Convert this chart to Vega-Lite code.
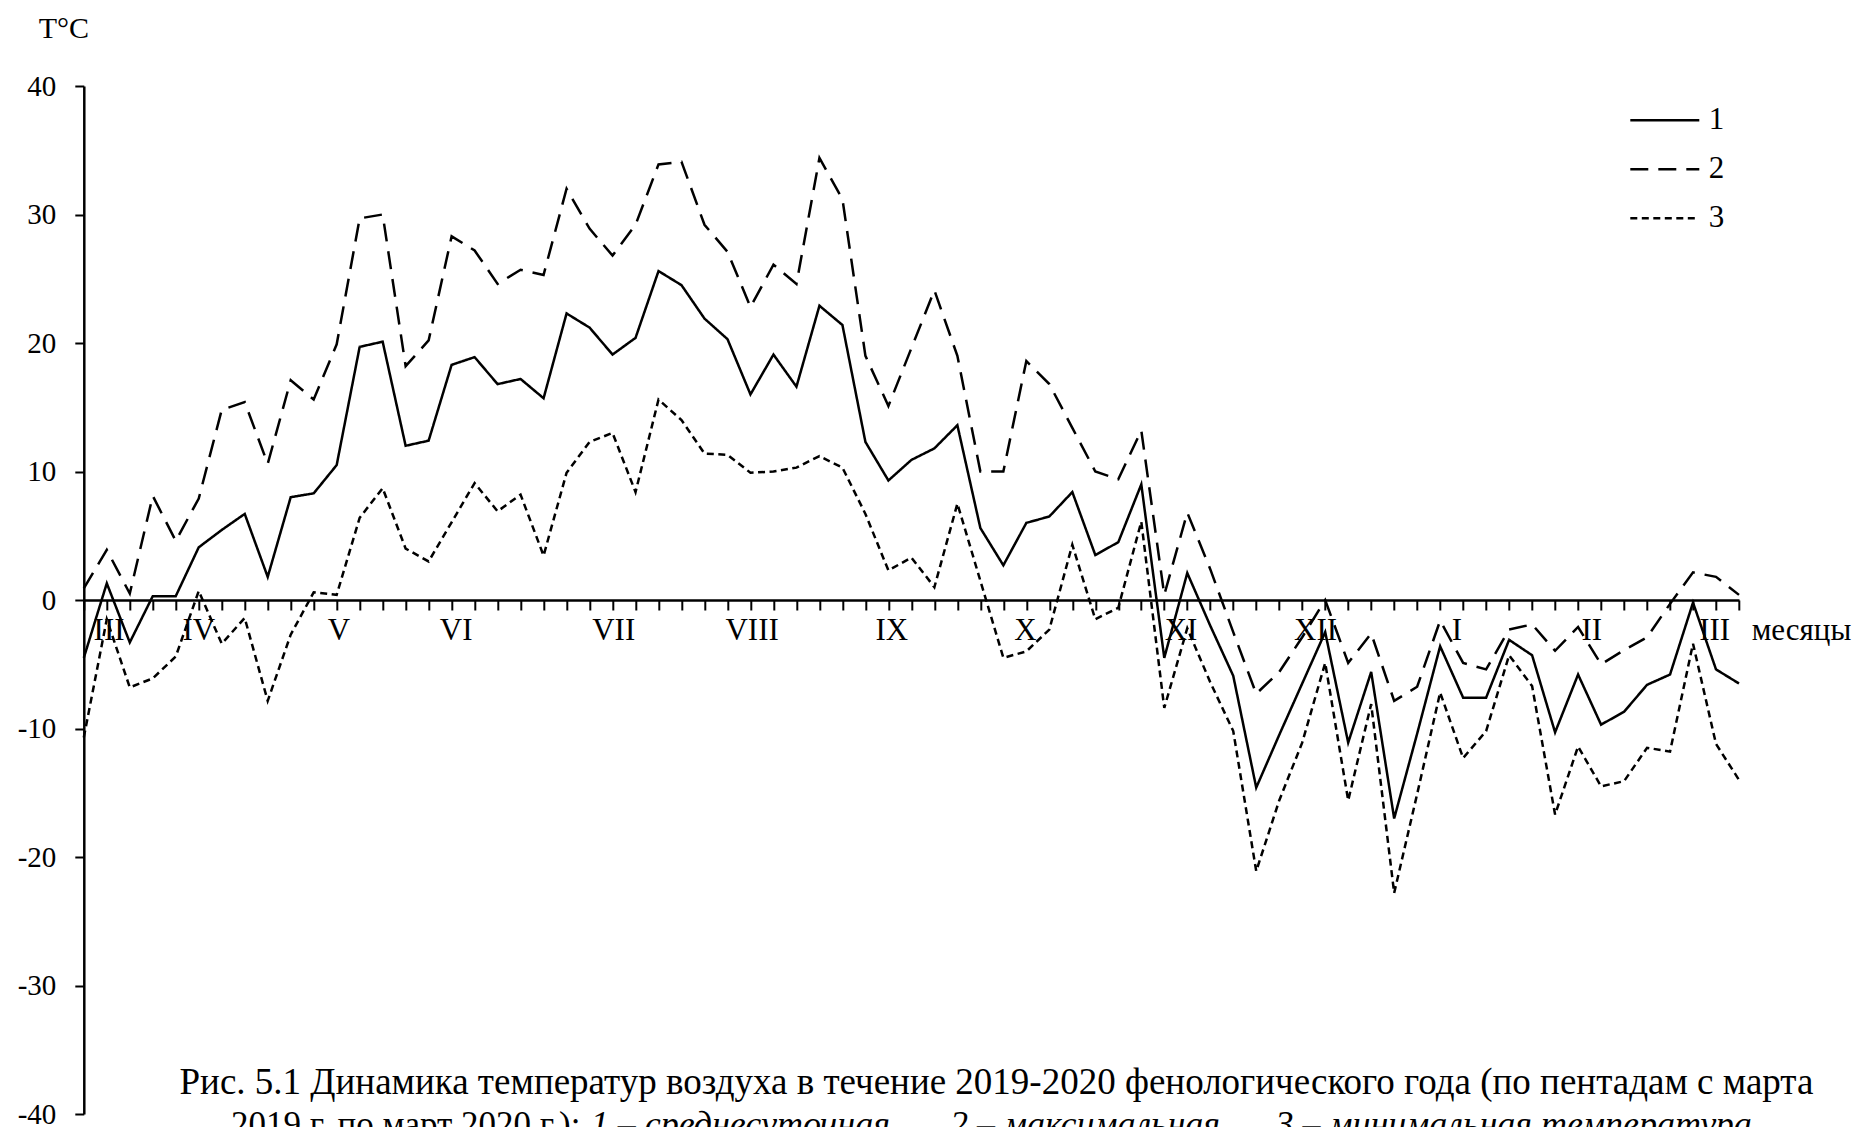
{
  "$schema": "https://vega.github.io/schema/vega-lite/v6.json",
  "autosize": {"type": "none"},
  "padding": {"left": 83.8, "top": 86, "right": 120, "bottom": 13},
  "width": 1655.2,
  "height": 1028,
  "config": {
    "view": {"stroke": null},
    "font": "Liberation Serif",
    "legend": {"labelFont": "Liberation Serif"},
    "axis": {"grid": false, "domainColor": "black", "tickColor": "black", "labelColor": "black", "titleColor": "black", "labelFont": "Liberation Serif", "titleFont": "Liberation Serif"},
    "axisX": {
      "offset": -514, "tickCount": 72, "labels": false,
      "tickSize": 10, "tickWidth": 2, "domainWidth": 2.5
    },
    "axisY": {
      "tickCount": 8,
      "titleAngle": 0, "titleX": -20.5, "titleY": -49,
      "titleAlign": "center", "titleBaseline": "alphabetic",
      "titleFont": "Liberation Serif", "titleFontSize": 30, "titleFontWeight": "normal",
      "labelFont": "Liberation Serif", "labelFontSize": 29, "labelPadding": 19,
      "labelExpr": "datum.value < 0 ? '-' + (-datum.value) : '' + datum.value",
      "tickSize": 9, "tickWidth": 2, "domainWidth": 2.5
    }
  },
  "datasets": {
    "temps": [
      {"p":0,"1":-4.5,"2":0.9,"3":-10.7},
      {"p":1,"1":1.3,"2":3.9,"3":-1.5},
      {"p":2,"1":-3.3,"2":0.5,"3":-6.8},
      {"p":3,"1":0.3,"2":8.1,"3":-6.1},
      {"p":4,"1":0.3,"2":4.6,"3":-4.4},
      {"p":5,"1":4.1,"2":7.9,"3":0.7},
      {"p":6,"1":5.45,"2":14.8,"3":-3.4},
      {"p":7,"1":6.7,"2":15.4,"3":-1.4},
      {"p":8,"1":1.8,"2":10.6,"3":-7.85},
      {"p":9,"1":8.0,"2":17.1,"3":-2.7},
      {"p":10,"1":8.3,"2":15.6,"3":0.6},
      {"p":11,"1":10.5,"2":19.9,"3":0.4},
      {"p":12,"1":19.7,"2":29.7,"3":6.4},
      {"p":13,"1":20.1,"2":30.0,"3":8.7},
      {"p":14,"1":12.0,"2":18.2,"3":4.0},
      {"p":15,"1":12.4,"2":20.2,"3":3.0},
      {"p":16,"1":18.3,"2":28.3,"3":6.05},
      {"p":17,"1":18.9,"2":27.2,"3":9.1},
      {"p":18,"1":16.8,"2":24.6,"3":6.9},
      {"p":19,"1":17.2,"2":25.7,"3":8.2},
      {"p":20,"1":15.7,"2":25.3,"3":3.45},
      {"p":21,"1":22.3,"2":32.0,"3":9.9},
      {"p":22,"1":21.2,"2":28.9,"3":12.3},
      {"p":23,"1":19.1,"2":26.8,"3":13.0},
      {"p":24,"1":20.4,"2":29.2,"3":8.4},
      {"p":25,"1":25.6,"2":33.9,"3":15.6},
      {"p":26,"1":24.5,"2":34.1,"3":14.0},
      {"p":27,"1":21.9,"2":29.2,"3":11.4},
      {"p":28,"1":20.3,"2":27.1,"3":11.3},
      {"p":29,"1":16.0,"2":22.8,"3":9.9},
      {"p":30,"1":19.1,"2":26.1,"3":10.0},
      {"p":31,"1":16.6,"2":24.6,"3":10.3},
      {"p":32,"1":22.9,"2":34.4,"3":11.2},
      {"p":33,"1":21.4,"2":31.2,"3":10.3},
      {"p":34,"1":12.3,"2":19.0,"3":6.7},
      {"p":35,"1":9.3,"2":15.1,"3":2.3},
      {"p":36,"1":10.9,"2":19.6,"3":3.3},
      {"p":37,"1":11.8,"2":24.1,"3":1.0},
      {"p":38,"1":13.6,"2":19.0,"3":7.5},
      {"p":39,"1":5.6,"2":10.0,"3":1.5},
      {"p":40,"1":2.7,"2":10.0,"3":-4.5},
      {"p":41,"1":6.0,"2":18.6,"3":-4.0},
      {"p":42,"1":6.5,"2":16.8,"3":-2.3},
      {"p":43,"1":8.4,"2":13.4,"3":4.3},
      {"p":44,"1":3.5,"2":10.0,"3":-1.5},
      {"p":45,"1":4.5,"2":9.4,"3":-0.6},
      {"p":46,"1":9.0,"2":13.2,"3":6.1},
      {"p":47,"1":-4.5,"2":0.4,"3":-8.4},
      {"p":48,"1":2.1,"2":6.8,"3":-2.2},
      {"p":49,"1":-2.0,"2":2.4,"3":-6.4},
      {"p":50,"1":-5.9,"2":-2.5,"3":-10.2},
      {"p":51,"1":-14.6,"2":-7.3,"3":-21.1},
      {"p":52,"1":-10.5,"2":-5.6,"3":-15.6},
      {"p":53,"1":-6.5,"2":-2.9,"3":-11.1},
      {"p":54,"1":-2.5,"2":0.0,"3":-4.9},
      {"p":55,"1":-11.1,"2":-4.9,"3":-15.6},
      {"p":56,"1":-5.6,"2":-2.6,"3":-8.1},
      {"p":57,"1":-17.0,"2":-7.85,"3":-22.8},
      {"p":58,"1":-10.4,"2":-6.75,"3":-15.1},
      {"p":59,"1":-3.6,"2":-1.6,"3":-7.2},
      {"p":60,"1":-7.6,"2":-4.9,"3":-12.3},
      {"p":61,"1":-7.6,"2":-5.4,"3":-10.2},
      {"p":62,"1":-3.1,"2":-2.3,"3":-4.3},
      {"p":63,"1":-4.3,"2":-1.9,"3":-6.7},
      {"p":64,"1":-10.3,"2":-3.95,"3":-16.7},
      {"p":65,"1":-5.8,"2":-2.1,"3":-11.4},
      {"p":66,"1":-9.7,"2":-5.0,"3":-14.5},
      {"p":67,"1":-8.7,"2":-3.9,"3":-14.1},
      {"p":68,"1":-6.6,"2":-2.9,"3":-11.5},
      {"p":69,"1":-5.8,"2":-0.3,"3":-11.8},
      {"p":70,"1":-0.2,"2":2.15,"3":-3.4},
      {"p":71,"1":-5.4,"2":1.8,"3":-11.2},
      {"p":72,"1":-6.5,"2":0.4,"3":-14.0}
    ],
    "months": [
      {"m":"III","p":1.1},
      {"m":"IV","p":5.0},
      {"m":"V","p":11.1},
      {"m":"VI","p":16.2},
      {"m":"VII","p":23.05},
      {"m":"VIII","p":29.07},
      {"m":"IX","p":35.15},
      {"m":"X","p":40.96},
      {"m":"XI","p":47.73},
      {"m":"XII","p":53.58},
      {"m":"I","p":59.73},
      {"m":"II","p":65.6},
      {"m":"III","p":70.94}
    ],
    "one": [{}]
  },
  "layer": [
    {
      "data": {"name": "temps"},
      "transform": [{"fold": ["1", "2", "3"], "as": ["series", "t"]}],
      "mark": {"type": "line", "color": "black", "strokeWidth": 2.5, "strokeCap": "butt"},
      "encoding": {
        "x": {
          "field": "p", "type": "quantitative",
          "scale": {"domain": [0, 72], "nice": false, "zero": false},
          "axis": {"title": null}
        },
        "y": {
          "field": "t", "type": "quantitative",
          "scale": {"domain": [-40, 40], "nice": false},
          "axis": {"title": "T°C", "labelFont": "Liberation Serif"}
        },
        "strokeDash": {
          "field": "series", "type": "nominal",
          "scale": {"domain": ["1", "2", "3"], "range": [[1, 0], [18, 10], [7, 4.5]]},
          "legend": {
            "orient": "none", "legendX": 1545, "legendY": 10, "title": null,
            "symbolType": "stroke", "symbolSize": 4761, "symbolStrokeWidth": 2.5,
            "symbolStrokeColor": "black",
            "labelFont": "Liberation Serif", "labelFontSize": 31, "labelColor": "black", "labelOffset": 8,
            "clipHeight": 48.5, "rowPadding": 0, "padding": 0
          }
        }
      }
    },
    {
      "data": {"name": "months"},
      "mark": {"type": "text", "font": "Liberation Serif", "fontSize": 31, "color": "black", "baseline": "alphabetic", "align": "center"},
      "encoding": {
        "x": {"field": "p", "type": "quantitative", "axis": {"title": null}},
        "y": {"datum": -3.1, "type": "quantitative", "axis": {"title": "T°C", "labelFont": "Liberation Serif"}},
        "text": {"field": "m"}
      }
    },
    {
      "data": {"name": "one"},
      "mark": {"type": "text", "text": "месяцы", "font": "Liberation Serif", "fontSize": 31, "color": "black", "baseline": "alphabetic", "align": "left"},
      "encoding": {
        "x": {"datum": 72.55, "type": "quantitative", "axis": {"title": null}},
        "y": {"datum": -3.1, "type": "quantitative", "axis": {"title": "T°C", "labelFont": "Liberation Serif"}}
      }
    },
    {
      "data": {"name": "one"},
      "mark": {"type": "text", "text": "Рис. 5.1 Динамика температур воздуха в течение 2019-2020 фенологического года (по пентадам с марта", "font": "Liberation Serif", "fontSize": 37, "color": "black", "baseline": "alphabetic", "align": "center"},
      "encoding": {
        "x": {"datum": 39.7, "type": "quantitative", "axis": {"title": null}},
        "y": {"datum": -38.45, "type": "quantitative", "axis": {"title": "T°C", "labelFont": "Liberation Serif"}}
      }
    },
    {
      "data": {"name": "one"},
      "mark": {"type": "text", "text": "2019 г. по март 2020 г.):", "font": "Liberation Serif", "fontSize": 35, "color": "black", "baseline": "alphabetic", "align": "left"},
      "encoding": {
        "x": {"datum": 6.4, "type": "quantitative", "axis": {"title": null}},
        "y": {"datum": -41.75, "type": "quantitative", "axis": {"title": "T°C", "labelFont": "Liberation Serif"}}
      }
    },
    {
      "data": {"name": "one"},
      "mark": {"type": "text", "text": "1 – среднесуточная,", "font": "Liberation Serif", "fontSize": 36, "fontStyle": "italic", "color": "black", "baseline": "alphabetic", "align": "left"},
      "encoding": {
        "x": {"datum": 22.05, "type": "quantitative", "axis": {"title": null}},
        "y": {"datum": -41.75, "type": "quantitative", "axis": {"title": "T°C", "labelFont": "Liberation Serif"}}
      }
    },
    {
      "data": {"name": "one"},
      "mark": {"type": "text", "text": "2 – максимальная,", "font": "Liberation Serif", "fontSize": 36, "fontStyle": "italic", "color": "black", "baseline": "alphabetic", "align": "left"},
      "encoding": {
        "x": {"datum": 37.68, "type": "quantitative", "axis": {"title": null}},
        "y": {"datum": -41.75, "type": "quantitative", "axis": {"title": "T°C", "labelFont": "Liberation Serif"}}
      }
    },
    {
      "data": {"name": "one"},
      "mark": {"type": "text", "text": "3 – минимальная температура", "font": "Liberation Serif", "fontSize": 36, "fontStyle": "italic", "color": "black", "baseline": "alphabetic", "align": "right"},
      "encoding": {
        "x": {"datum": 72.55, "type": "quantitative", "axis": {"title": null}},
        "y": {"datum": -41.75, "type": "quantitative", "axis": {"title": "T°C", "labelFont": "Liberation Serif"}}
      }
    }
  ]
}
